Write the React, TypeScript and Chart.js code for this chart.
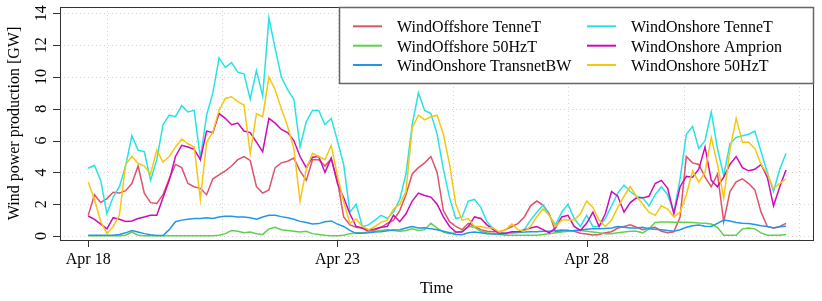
import React, { useEffect, useRef } from "react";
import { Chart, registerables } from "chart.js";

Chart.register(...registerables);

// ---- data (3-hourly samples starting Apr 18 00:00) ----
const stepHours = 3;
const seriesLabels = [
  "WindOffshore TenneT",
  "WindOffshore 50HzT",
  "WindOnshore TransnetBW",
  "WindOnshore TenneT",
  "WindOnshore Amprion",
  "WindOnshore 50HzT",
];
const seriesColors = ["#DF536B", "#61D04F", "#2297E6", "#28E2E5", "#CD0BBC", "#F5C710"];

const xTickHours = [0, 120, 240];
const xTickLabels = ["Apr 18", "Apr 23", "Apr 28"];
const yTickValues = [0, 2, 4, 6, 8, 10, 12, 14];

const offshoreTenneT = [
  1.3, 2.6, 2.1, 2.35, 2.75, 2.7, 2.85, 3.3, 4.4, 2.7,
  2.1, 2.05, 2.6, 3.6, 4.5, 4.3, 3.3, 3.1, 3.0, 2.6,
  3.6, 3.85, 4.1, 4.4, 4.8, 5.0, 4.75, 3.1, 2.7, 2.9,
  4.3, 4.6, 4.7, 4.9, 4.1, 3.5, 4.8, 4.8, 4.4, 4.85,
  3.5, 1.2, 0.7, 0.55, 0.5, 0.27, 0.38, 0.55, 0.8, 1.0,
  1.6, 2.6, 3.9, 4.3, 4.6, 5.0, 4.0, 1.6, 0.9, 0.6,
  0.4, 0.8, 0.6, 0.4, 0.3, 0.27, 0.27, 0.4, 0.6, 0.8,
  1.2, 1.9, 2.2, 1.95, 1.4, 0.27, 0.3, 0.37, 0.3, 0.17,
  0.13, 0.06, 0.1, 0.2, 0.27, 0.5, 0.6, 0.7, 0.55, 0.4,
  0.5, 0.55, 0.3, 0.2, 0.27, 1.2, 5.0, 4.6, 4.5, 3.7,
  3.1, 3.9, 0.9, 2.8, 3.4, 3.6, 3.3, 2.9, 1.5, 0.6,
  0.5, 0.6, 0.8,
];
const offshore50HzT = [
  0.02, 0.02, 0.02, 0.02, 0.02, 0.02, 0.05, 0.25, 0.05, 0.02,
  0.02, 0.02, 0.02, 0.02, 0.02, 0.02, 0.02, 0.02, 0.02, 0.02,
  0.02, 0.05, 0.15, 0.35, 0.3, 0.2, 0.25, 0.15, 0.1, 0.45,
  0.55, 0.4, 0.35, 0.3, 0.25, 0.3, 0.15, 0.1, 0.05, 0.02,
  0.02, 0.05, 0.15, 0.2, 0.2, 0.25, 0.3, 0.35, 0.4, 0.35,
  0.3, 0.35, 0.45, 0.35, 0.4, 0.8, 0.5, 0.25, 0.15, 0.2,
  0.3, 0.6, 0.55, 0.3, 0.2, 0.15, 0.1, 0.05, 0.05, 0.05,
  0.05, 0.05, 0.05, 0.1, 0.15, 0.2, 0.25, 0.3, 0.35, 0.35,
  0.3, 0.25, 0.2, 0.15, 0.15, 0.2, 0.25, 0.3, 0.3, 0.2,
  0.45, 0.85, 0.88, 0.88, 0.87, 0.87, 0.86, 0.85, 0.82, 0.8,
  0.75, 0.55, 0.05, 0.05, 0.05, 0.45, 0.5, 0.45, 0.2, 0.05,
  0.05, 0.05, 0.1,
];
const onshoreTransnetBW = [
  0.05, 0.05, 0.05, 0.05, 0.05, 0.1, 0.2, 0.35, 0.25, 0.15,
  0.08, 0.03, 0.03, 0.4, 0.9, 1.0, 1.05, 1.1, 1.1, 1.15,
  1.1, 1.2, 1.25, 1.25, 1.2, 1.2, 1.15, 1.05, 1.2, 1.3,
  1.3, 1.22, 1.15, 1.05, 0.92, 0.85, 0.75, 0.78, 0.9, 0.95,
  0.75, 0.6, 0.35, 0.17, 0.17, 0.2, 0.25, 0.27, 0.33, 0.38,
  0.4, 0.5, 0.6, 0.5, 0.52, 0.45, 0.4, 0.3, 0.2, 0.1,
  0.08, 0.2, 0.25, 0.2, 0.15, 0.12, 0.12, 0.15, 0.2, 0.22,
  0.25, 0.27, 0.27, 0.3, 0.3, 0.33, 0.38, 0.35, 0.33, 0.38,
  0.42, 0.45, 0.45, 0.48, 0.5, 0.6, 0.55, 0.5, 0.5, 0.55,
  0.45, 0.42, 0.4, 0.35, 0.3, 0.4, 0.55, 0.65, 0.7, 0.62,
  0.6, 0.8, 1.0, 0.95, 0.85, 0.8, 0.78, 0.72, 0.65, 0.6,
  0.5, 0.58, 0.62,
];
const onshoreTenneT = [
  4.26, 4.45, 3.5, 1.4, 2.45, 3.1, 4.4, 6.3, 5.4, 5.3,
  3.5, 4.8, 7.0, 7.6, 7.5, 8.2, 7.8, 7.9, 4.9, 7.6,
  9.0, 11.2, 10.6, 10.9, 10.3, 10.2, 8.6, 10.4, 8.8, 13.7,
  11.8, 10.0, 9.2, 8.6, 5.6, 7.2, 7.9, 7.9, 7.0, 7.4,
  6.0, 4.5, 1.5, 2.0, 0.6, 0.7, 1.0, 1.3, 1.1, 1.5,
  2.3, 3.9, 7.0, 9.0, 7.9, 7.7, 6.4, 4.2, 2.4, 1.1,
  1.2, 2.2, 2.3, 1.8, 0.9, 0.45, 0.2, 0.17, 0.17, 0.25,
  0.4, 1.0, 1.5, 1.95, 1.3, 0.7, 1.5, 2.0, 1.1, 0.6,
  1.3, 0.6, 0.6, 1.1, 1.9, 2.7, 3.2, 2.8, 2.5, 2.4,
  1.9, 2.6, 3.1, 2.6, 1.5, 3.6, 6.4, 6.9, 5.5, 6.0,
  7.8, 5.5, 3.8, 5.8, 6.2, 6.3, 6.4, 6.6, 5.3, 4.0,
  2.8, 4.2, 5.2,
];
const onshoreAmprion = [
  1.26, 1.05, 0.75, 0.45, 1.15, 1.05, 0.92, 0.95, 1.1, 1.2,
  1.3, 1.3, 2.4, 3.5, 5.0, 5.7, 5.6, 5.45, 4.8, 6.6,
  6.5, 7.7, 7.4, 7.0, 7.1, 6.6, 6.5, 5.9, 5.3, 7.4,
  7.1, 6.7, 6.5, 6.0, 5.0, 4.3, 4.95, 5.0, 4.0, 4.9,
  3.3, 2.4, 1.4, 0.6, 0.5, 0.38, 0.45, 0.55, 0.6, 1.3,
  0.9, 1.4, 2.2, 2.7, 2.55, 2.45, 2.0, 1.2, 0.6, 0.25,
  0.25, 0.6, 1.2, 1.1, 0.7, 0.4, 0.17, 0.17, 0.27, 0.27,
  0.38, 0.5, 0.6, 0.4, 0.2, 0.5, 1.2, 1.3, 0.6, 0.35,
  0.8, 1.5, 0.6, 1.4, 2.8, 2.5, 1.5, 2.1, 2.4, 2.4,
  2.5, 3.3, 3.5, 3.0, 1.4, 3.1, 3.75, 3.7, 4.2, 5.6,
  3.5, 3.1, 3.7, 4.5, 5.0, 4.3, 4.1, 4.2, 4.5, 3.7,
  1.9, 3.1, 4.15,
];
const onshore50HzT = [
  3.4, 2.3, 0.9, 0.15, 0.6, 1.3, 4.5, 5.0, 4.57, 4.4,
  3.9, 5.4, 4.65, 5.0, 5.6, 6.1, 5.8, 5.6, 2.3, 5.9,
  6.55, 7.9, 8.65, 8.76, 8.45, 8.24, 5.2, 7.7, 7.5, 10.0,
  9.2, 8.0, 6.9, 5.5, 2.2, 4.2, 5.2, 5.0, 4.8, 5.7,
  3.8, 2.15, 0.8, 1.07, 0.6, 0.4, 0.6, 0.86, 1.0, 1.7,
  2.0, 2.8, 6.8, 7.6, 7.3, 7.5, 7.6, 6.4, 4.5, 2.0,
  1.0, 1.1, 0.6, 0.6, 0.5, 0.5, 0.25, 0.4, 0.75, 0.4,
  0.3, 0.6, 1.2, 1.7, 1.3, 0.6, 1.0, 1.0, 1.0, 1.4,
  2.2, 1.8, 1.0, 0.6, 1.0, 1.8, 2.5, 3.1, 2.5, 2.0,
  1.5, 1.3, 1.9, 1.7, 1.2, 1.5, 2.6, 4.1, 3.4, 4.0,
  6.2, 4.5, 2.4, 5.4, 7.4, 5.9, 5.9, 5.5, 4.5, 3.9,
  3.0, 3.3, 3.6,
];

const seriesValues = [
  offshoreTenneT,
  offshore50HzT,
  onshoreTransnetBW,
  onshoreTenneT,
  onshoreAmprion,
  onshore50HzT,
];

// ---- styling ----
const FONT = "'Liberation Serif', 'Times New Roman', serif";
const gridStartHours = 9;
const gridStepHours = 200000 / 3600;

const rStylePlugin = {
  id: "rStyle",
  beforeDatasetsDraw(chart: any) {
    const { ctx, chartArea: a, scales } = chart;
    const x = scales.x;
    const y = scales.y;
    ctx.save();
    ctx.strokeStyle = "#d3d3d3";
    ctx.lineWidth = 1;
    ctx.setLineDash([1, 3]);
    for (const v of yTickValues) {
      const py = Math.round(y.getPixelForValue(v)) + 0.5;
      ctx.beginPath();
      ctx.moveTo(a.left, py);
      ctx.lineTo(a.right, py);
      ctx.stroke();
    }
    for (let h = gridStartHours; h <= x.max; h += gridStepHours) {
      const px = Math.round(x.getPixelForValue(h)) + 0.5;
      ctx.beginPath();
      ctx.moveTo(px, a.top);
      ctx.lineTo(px, a.bottom);
      ctx.stroke();
    }
    ctx.restore();
  },
  afterDatasetsDraw(chart: any) {
    const { ctx, chartArea: a, scales } = chart;
    const x = scales.x;
    const y = scales.y;
    ctx.save();
    ctx.setLineDash([]);
    // plot box
    ctx.strokeStyle = "#333";
    ctx.lineWidth = 1;
    ctx.strokeRect(Math.round(a.left) + 0.5, Math.round(a.top) + 0.5, Math.round(a.right - a.left), Math.round(a.bottom - a.top));

    // tick marks
    ctx.beginPath();
    for (const v of yTickValues) {
      const py = Math.round(y.getPixelForValue(v)) + 0.5;
      ctx.moveTo(a.left, py);
      ctx.lineTo(a.left - 7, py);
    }
    for (const h of xTickHours) {
      const px = Math.round(x.getPixelForValue(h)) + 0.5;
      ctx.moveTo(px, a.bottom);
      ctx.lineTo(px, a.bottom + 7);
    }
    ctx.stroke();

    ctx.fillStyle = "#000";
    ctx.font = `16px ${FONT}`;
    // x tick labels
    ctx.textAlign = "center";
    ctx.textBaseline = "alphabetic";
    xTickHours.forEach((h, i) => {
      ctx.fillText(xTickLabels[i], x.getPixelForValue(h), a.bottom + 23.5);
    });
    // y tick labels (rotated)
    for (const v of yTickValues) {
      ctx.save();
      ctx.translate(a.left - 14.5, y.getPixelForValue(v));
      ctx.rotate(-Math.PI / 2);
      ctx.fillText(String(v), 0, 0);
      ctx.restore();
    }
    // axis titles
    ctx.fillText("Time", (a.left + a.right) / 2, 293);
    ctx.save();
    ctx.translate(18.5, (a.top + a.bottom) / 2);
    ctx.rotate(-Math.PI / 2);
    ctx.fillText("Wind power production [GW]", 0, 0);
    ctx.restore();

    // legend
    const lx0 = 339;
    const ly0 = a.top;
    const lx1 = a.right;
    const ly1 = 83;
    ctx.fillStyle = "#fff";
    ctx.fillRect(lx0, ly0, lx1 - lx0, ly1 - ly0);
    ctx.strokeStyle = "#666";
    ctx.lineWidth = 1.5;
    ctx.strokeRect(lx0 + 0.5, ly0 + 0.5, lx1 - lx0, ly1 - ly0);
    const colLine = [353, 587];
    const colText = [397, 631];
    const rowBase = [32.3, 51.7, 71];
    ctx.textAlign = "left";
    ctx.font = `16px ${FONT}`;
    seriesLabels.forEach((lab, i) => {
      const col = Math.floor(i / 3);
      const row = i % 3;
      const by = rowBase[row];
      ctx.strokeStyle = seriesColors[i];
      ctx.lineWidth = 2;
      ctx.beginPath();
      ctx.moveTo(colLine[col], by - 6);
      ctx.lineTo(colLine[col] + 29, by - 6);
      ctx.stroke();
      ctx.fillStyle = "#000";
      ctx.fillText(lab, colText[col], by);
    });
    ctx.restore();
  },
};

export default function App() {
  const canvasRef = useRef<HTMLCanvasElement | null>(null);

  useEffect(() => {
    const canvas = canvasRef.current;
    if (!canvas) return;
    const datasets = seriesValues.map((vals, i) => ({
      label: seriesLabels[i],
      data: vals.map((v, k) => ({ x: k * stepHours, y: v })),
      borderColor: seriesColors[i],
      backgroundColor: seriesColors[i],
      borderWidth: 1.5,
      pointRadius: 0,
      tension: 0,
      fill: false,
      order: seriesValues.length - 1 - i,
    }));
    const chart = new Chart(canvas, {
      type: "line",
      data: { datasets },
      options: {
        responsive: false,
        animation: false,
        devicePixelRatio: 1,
        layout: { padding: { top: 7, right: 9, left: 0, bottom: 0 } },
        plugins: { legend: { display: false }, tooltip: { enabled: false } },
        scales: {
          x: {
            type: "linear",
            min: -13.6,
            max: 349,
            grid: { display: false },
            border: { display: false },
            ticks: { display: false },
            afterFit: (s: any) => {
              s.height = 61;
            },
          },
          y: {
            type: "linear",
            min: -0.25,
            max: 14.4,
            grid: { display: false },
            border: { display: false },
            ticks: { display: false },
            afterFit: (s: any) => {
              s.width = 60;
            },
          },
        },
      },
      plugins: [rStylePlugin],
    });
    return () => chart.destroy();
  }, []);

  return (
    <div style={{ position: "absolute", left: 0, top: 0, width: 822, height: 301, background: "#fff" }}>
      <canvas ref={canvasRef} width={822} height={301} style={{ width: 822, height: 301 }} />
    </div>
  );
}
